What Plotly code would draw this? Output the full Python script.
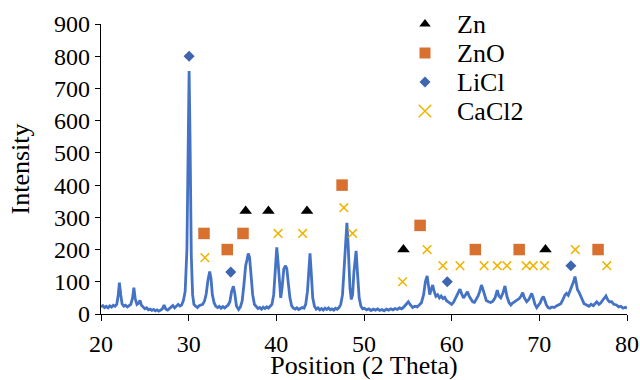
import plotly.graph_objects as go

# Diffraction pattern: 2-theta position (degrees) and measured intensity
two_theta = [
    20.0, 20.2, 20.4, 20.6, 20.8, 21.0, 21.2, 21.4, 21.6, 21.8, 21.95, 22.1, 22.25, 22.4, 22.6, 22.8,
    23.0, 23.2, 23.4, 23.6, 23.75, 23.9, 24.1, 24.3, 24.45, 24.6, 24.8, 25.0, 25.2, 25.4, 25.6, 25.8,
    26.0, 26.2, 26.4, 26.6, 26.8, 27.0, 27.2, 27.4, 27.6, 27.8, 28.0, 28.2, 28.4, 28.6, 28.8, 29.0,
    29.2, 29.4, 29.6, 29.8, 29.95, 30.05, 30.15, 30.3, 30.45, 30.6, 30.8, 31.0, 31.2, 31.4, 31.6, 31.8,
    32.0, 32.2, 32.4, 32.55, 32.7, 32.9, 33.1, 33.3, 33.5, 33.7, 33.9, 34.1, 34.3, 34.5, 34.7, 34.9,
    35.1, 35.25, 35.45, 35.7, 35.9, 36.1, 36.3, 36.5, 36.65, 36.8, 36.95, 37.1, 37.3, 37.5, 37.7, 37.9,
    38.1, 38.3, 38.5, 38.7, 38.9, 39.1, 39.3, 39.5, 39.7, 39.9, 40.05, 40.2, 40.35, 40.5, 40.65, 40.85,
    41.05, 41.2, 41.35, 41.55, 41.75, 41.95, 42.15, 42.35, 42.55, 42.75, 42.95, 43.15, 43.35, 43.55, 43.72, 43.84,
    43.98, 44.15, 44.35, 44.55, 44.75, 44.95, 45.15, 45.35, 45.55, 45.75, 45.95, 46.15, 46.35, 46.55, 46.75, 46.95,
    47.15, 47.35, 47.55, 47.75, 47.95, 48.05, 48.2, 48.4, 48.55, 48.7, 48.85, 49.0, 49.1, 49.25, 49.45, 49.65,
    49.85, 50.05, 50.3, 50.55, 50.8, 51.05, 51.3, 51.55, 51.8, 52.05, 52.3, 52.55, 52.8, 53.05, 53.3, 53.55,
    53.8, 54.05, 54.3, 54.55, 54.8, 55.05, 55.3, 55.55, 55.8, 56.05, 56.3, 56.55, 56.8, 57.0, 57.2, 57.35,
    57.5, 57.65, 57.84, 58.0, 58.2, 58.4, 58.6, 58.8, 59.0, 59.2, 59.4, 59.6, 59.8, 60.0, 60.2, 60.45,
    60.65, 60.95, 61.15, 61.35, 61.55, 61.8, 62.0, 62.2, 62.4, 62.6, 62.8, 63.0, 63.2, 63.4, 63.55, 63.75,
    63.95, 64.2, 64.45, 64.7, 64.95, 65.2, 65.4, 65.6, 65.85, 66.08, 66.3, 66.55, 66.75, 66.95, 67.2, 67.45,
    67.7, 67.9, 68.1, 68.3, 68.56, 68.8, 69.0, 69.13, 69.3, 69.5, 69.7, 69.9, 70.1, 70.3, 70.45, 70.6,
    70.8, 71.0, 71.2, 71.45, 71.7, 71.95, 72.2, 72.45, 72.7, 72.9, 73.1, 73.3, 73.5, 73.7, 73.9, 74.07,
    74.2, 74.35, 74.5, 74.7, 74.9, 75.1, 75.4, 75.65, 75.9, 76.15, 76.35, 76.55, 76.8, 77.0, 77.2, 77.4,
    77.6, 77.8, 78.0, 78.25, 78.5, 78.8, 79.05, 79.3, 79.55, 79.8, 80.0,
]
intensity = [
    22, 26, 20, 24, 19, 25, 21, 27, 24, 30, 55, 97, 60, 32, 24, 27,
    22, 26, 30, 50, 82, 48, 30, 34, 42, 28, 20, 16, 19, 13, 15, 11,
    14, 10, 13, 9, 12, 16, 28, 15, 12, 17, 20, 26, 19, 24, 30, 25,
    28, 42, 70, 200, 550, 754, 560, 180, 60, 30, 24, 20, 26, 28, 30, 40,
    62, 105, 132, 110, 60, 35, 24, 20, 24, 18, 23, 19, 25, 28, 38, 70,
    86, 66, 25, 14, 22, 40, 90, 150, 168, 188, 175, 130, 60, 30, 22, 17,
    20, 15, 21, 17, 22, 18, 24, 30, 60, 170, 207, 160, 90, 50, 80, 140,
    150, 140, 100, 50, 25, 18, 15, 19, 14, 17, 20, 18, 30, 70, 150, 188,
    130, 50, 24, 15, 19, 13, 17, 12, 18, 14, 19, 13, 16, 12, 18, 15,
    20, 30, 60, 150, 260, 283, 210, 80, 45, 60, 130, 190, 196, 130, 50, 24,
    16, 18, 13, 16, 11, 15, 12, 16, 11, 14, 10, 15, 12, 16, 13, 17,
    14, 19, 16, 22, 30, 38, 28, 20, 24, 22, 28, 35, 60, 100, 118, 85,
    60, 75, 90, 70, 55, 60, 50, 56, 48, 52, 42, 38, 34, 30, 36, 50,
    60, 77, 62, 50, 58, 69, 55, 45, 38, 36, 44, 55, 70, 90, 78, 55,
    42, 38, 36, 40, 50, 74, 55, 50, 65, 87, 55, 35, 28, 34, 38, 42,
    48, 55, 66, 50, 38, 45, 58, 64, 50, 30, 20, 26, 35, 48, 54, 45,
    28, 20, 18, 22, 20, 25, 28, 32, 45, 58, 64, 58, 72, 85, 100, 116,
    95, 75, 69, 55, 40, 32, 28, 24, 30, 26, 32, 38, 30, 34, 42, 50,
    56, 44, 38, 38, 30, 28, 22, 24, 18, 21, 18,
]

# Phase identification markers (position, marker height)
zn_pos = [36.5, 39.1, 43.5, 54.5, 70.7]
zn_val = [320, 320, 320, 200, 200]

zno_pos = [31.75, 34.4, 36.2, 47.5, 56.4, 62.7, 67.7, 76.7]
zno_val = [250, 200, 250, 400, 275, 200, 200, 200]

licl_pos = [30.05, 34.8, 59.5, 73.6]
licl_val = [800, 130, 100, 150]

cacl2_pos = [31.85, 40.2, 43.0, 47.7, 48.7, 54.4, 57.2, 59.0, 60.95, 63.7, 65.2,
             66.3, 68.5, 69.3, 70.6, 74.1, 77.7]
cacl2_val = [175, 250, 250, 330, 250, 100, 200, 150, 150, 150, 150,
             150, 150, 150, 150, 200, 150]

x_ticks = [20, 30, 40, 50, 60, 70, 80]
y_ticks = [0, 100, 200, 300, 400, 500, 600, 700, 800, 900]

FONT = "Liberation Serif"
LINE_BLUE = "#4472C4"
ORANGE = "#D8702F"
DIAMOND_BLUE = "#3E66B0"
GOLD = "#F0B400"

phases = [
    ("Zn", zn_pos, zn_val, dict(symbol="triangle-up", size=11, color="black")),
    ("ZnO", zno_pos, zno_val, dict(symbol="square", size=11.5, color=ORANGE)),
    ("LiCl", licl_pos, licl_val, dict(symbol="diamond", size=8.5, color=DIAMOND_BLUE)),
    ("CaCl2", cacl2_pos, cacl2_val,
     dict(symbol="x-thin", size=8.6, color=GOLD, line=dict(color=GOLD, width=1.5))),
]

fig = go.Figure()

fig.add_trace(go.Scatter(
    x=two_theta, y=intensity, mode="lines",
    line=dict(color=LINE_BLUE, width=2.8), showlegend=False, hoverinfo="skip",
))

for name, xs, ys, marker in phases:
    fig.add_trace(go.Scatter(
        x=xs, y=ys, mode="markers", name=name, marker=marker,
        showlegend=False, cliponaxis=False,
    ))

# Key: symbols and labels drawn on a pixel-scaled overlay of the plot area
key_x = 425
key_rows = [24, 53, 82, 111]
legend_marker = {
    "Zn": dict(symbol="triangle-up", size=10, color="black"),
    "ZnO": dict(symbol="square", size=11, color=ORANGE),
    "LiCl": dict(symbol="diamond", size=8.5, color=DIAMOND_BLUE),
    "CaCl2": dict(symbol="x-thin", size=12.5, color=GOLD, line=dict(color=GOLD, width=1.5)),
}
for (name, _, _, _), row_y in zip(phases, key_rows):
    fig.add_trace(go.Scatter(
        x=[key_x], y=[row_y], mode="markers", marker=legend_marker[name],
        xaxis="x2", yaxis="y2", showlegend=False, cliponaxis=False, hoverinfo="skip",
    ))
    fig.add_annotation(
        x=key_x + 30, y=row_y, xref="x2", yref="y2", text=name, showarrow=False,
        xanchor="left", yanchor="middle", font=dict(family=FONT, size=26, color="black"),
    )

axis_common = dict(
    showgrid=False, zeroline=False, showline=True, linecolor="black", linewidth=1.3,
    ticks="outside", tickcolor="black", tickwidth=1.3, automargin=False,
    tickfont=dict(family=FONT, size=24, color="black"),
)

fig.update_layout(
    width=640, height=380,
    margin=dict(l=101, r=13, t=24, b=66),
    paper_bgcolor="white", plot_bgcolor="white",
    font=dict(family=FONT, color="black"),
    showlegend=False,
    xaxis=dict(
        range=[20, 80], tickvals=x_ticks, ticklen=6, ticklabelstandoff=2,
        title=dict(text="Position (2 Theta)", font=dict(family=FONT, size=26, color="black"), standoff=0),
        **axis_common,
    ),
    yaxis=dict(
        range=[0, 900], tickvals=y_ticks, ticklen=5,
        title=dict(text="Intensity", font=dict(family=FONT, size=26, color="black"), standoff=16),
        **axis_common,
    ),
    xaxis2=dict(range=[101, 627], overlaying="x", visible=False, fixedrange=True),
    yaxis2=dict(range=[314, 24], overlaying="y", visible=False, fixedrange=True),
)

fig.write_html("out.html")
